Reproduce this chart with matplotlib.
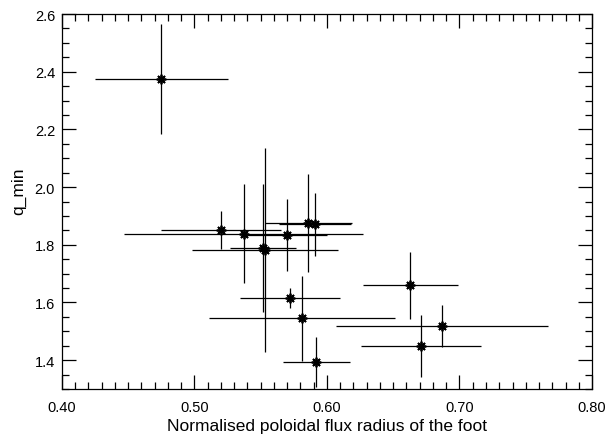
import numpy as np
import matplotlib
matplotlib.use('Agg')
import matplotlib.pyplot as plt
from matplotlib.ticker import MultipleLocator, FormatStrFormatter

# foot radius (normalised poloidal flux) and q_min, with their errors
rho_foot = [0.475, 0.520, 0.537, 0.570, 0.586, 0.591, 0.5515, 0.553,
            0.572, 0.581, 0.592, 0.663, 0.687, 0.671]
rho_err = [0.050, 0.045, 0.090, 0.030, 0.033, 0.027, 0.025, 0.055,
           0.038, 0.070, 0.025, 0.036, 0.080, 0.045]
q_min = [2.375, 1.852, 1.839, 1.834, 1.876, 1.871, 1.788, 1.781,
         1.616, 1.545, 1.393, 1.659, 1.518, 1.450]
q_err = [0.190, 0.065, 0.170, 0.126, 0.170, 0.110, 0.222, 0.354,
         0.035, 0.148, 0.087, 0.116, 0.074, 0.108]

plt.rcParams['font.family'] = ['Liberation Sans', 'DejaVu Sans']

fig = plt.figure(figsize=(6.06, 4.39), dpi=100)
ax = fig.add_axes([0.1023, 0.1116, 0.8746, 0.8542])

ax.errorbar(rho_foot, q_min, xerr=rho_err, yerr=q_err, fmt='none',
            ecolor='black', elinewidth=0.9, capsize=0)
# IDL-style asterisk symbol
ax.plot(rho_foot, q_min, linestyle='none', marker=(8, 2, 0), markersize=7,
        markeredgewidth=1.3, color='black')

ax.set_xlim(0.40, 0.80)
ax.set_ylim(1.3, 2.6)
ax.xaxis.set_major_locator(MultipleLocator(0.1))
ax.xaxis.set_minor_locator(MultipleLocator(0.01))
ax.yaxis.set_major_locator(MultipleLocator(0.2))
ax.yaxis.set_minor_locator(MultipleLocator(0.05))
ax.xaxis.set_major_formatter(FormatStrFormatter('%.2f'))
ax.yaxis.set_major_formatter(FormatStrFormatter('%.1f'))

ax.tick_params(which='both', direction='in', top=True, right=True,
               labelsize=10.5, width=0.9)
ax.tick_params(which='major', length=10)
ax.tick_params(which='minor', length=5)
ax.tick_params(axis='x', pad=8)
ax.tick_params(axis='y', pad=5)
for s in ax.spines.values():
    s.set_linewidth(0.9)

ax.set_xlabel('Normalised poloidal flux radius of the foot', fontsize=12.5, labelpad=3)
ax.set_ylabel('q_min', fontsize=12.5)
ax.yaxis.set_label_coords(-0.068, 0.53)

fig.savefig('out.png', dpi=100)
